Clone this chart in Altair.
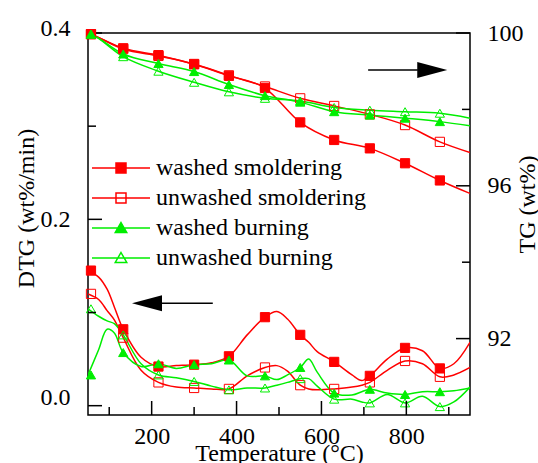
import altair as alt
import pandas as pd

SERIES = ["washed smoldering", "unwashed smoldering", "washed burning", "unwashed burning"]
COLORS = ["#ff0000", "#ff0000", "#00ee00", "#00ee00"]
FILLS = ["#ff0000", "transparent", "#00ee00", "transparent"]
SHAPES = ["square", "square", "triangle-up", "triangle-up"]
LEG_SHAPES = [
    "M-5.8,0H5.8M-1,-1H1V1H-1Z",
    "M-5.8,0H5.8M-1,-1H1V1H-1Z",
    "M-5.8,0H5.8M0,-1.1L1.15,0.9H-1.15Z",
    "M-5.8,0H5.8M0,-1.1L1.15,0.9H-1.15Z",
]

# DTG curves (wt%/min) on a temperature grid (°C)
T_GRID = [50, 75, 95, 112, 133, 175, 216, 258, 300, 341, 382, 425, 467, 495,
          520, 550, 570, 590, 630, 672, 695, 714, 755, 797, 838, 879, 912, 950]
DTG_WS = [0.145, 0.138, 0.125, 0.106, 0.082, 0.052, 0.042, 0.043, 0.044, 0.046,
          0.053, 0.076, 0.095, 0.101, 0.093, 0.076, 0.068, 0.058, 0.047, 0.033,
          0.027, 0.032, 0.050, 0.062, 0.059, 0.040, 0.045, 0.068]
DTG_US = [0.120, 0.114, 0.102, 0.092, 0.073, 0.038, 0.025, 0.020, 0.019, 0.018,
          0.018, 0.032, 0.041, 0.043, 0.037, 0.022, 0.018, 0.017, 0.018, 0.020,
          0.022, 0.025, 0.038, 0.048, 0.045, 0.031, 0.033, 0.041]
DTG_WB = [0.033, 0.060, 0.082, 0.078, 0.057, 0.042, 0.045, 0.040, 0.044, 0.045,
          0.049, 0.032, 0.032, 0.028, 0.033, 0.041, 0.050, 0.036, 0.0135, 0.0115,
          0.015, 0.0176, 0.0135, 0.012, 0.015, 0.015, 0.016, 0.019]
DTG_UB = [0.104, 0.096, 0.091, 0.088, 0.076, 0.045, 0.033, 0.030, 0.026, 0.021,
          0.017, 0.019, 0.019, 0.022, 0.025, 0.029, 0.029, 0.021, 0.007, 0.007,
          0.004, 0.003, 0.012, 0.003, 0.010, -0.001, 0.004, 0.020]

MARK_T = [57, 133, 216, 300, 382, 467, 550, 630, 714, 797, 879]
MARK_IDX = [0, 4, 6, 8, 10, 12, 15, 18, 21, 23, 25]

# TG curves (wt%)
TG_T = [50, 57, 133, 216, 300, 382, 467, 550, 630, 714, 797, 879, 950]
TG_WS = [100.0, 99.97, 99.60, 99.42, 99.18, 98.88, 98.56, 97.66, 97.20, 96.98, 96.59, 96.14, 95.80]
TG_US = [100.0, 99.97, 99.58, 99.40, 99.19, 98.89, 98.60, 98.29, 98.09, 97.87, 97.59, 97.15, 96.87]
TG_WB = [100.0, 99.97, 99.45, 99.20, 98.99, 98.65, 98.36, 98.19, 97.94, 97.85, 97.77, 97.68, 97.57]
TG_UB = [100.0, 99.97, 99.38, 99.00, 98.71, 98.46, 98.29, 98.22, 98.05, 97.98, 97.94, 97.90, 97.77]

# axis ticks
X_MAJOR = [200, 400, 600, 800]
X_MINOR = [100, 300, 500, 700, 900]
DTG_MAJOR = [0.0, 0.2, 0.4]
DTG_MINOR = [0.1, 0.3]
TG_MAJOR = [92, 96, 100]
TG_MINOR = [94, 98]

# arrows (data coordinates)
ARROW_DTG = {"shaft_from": 344, "shaft_to": 222, "head": 189, "level": 0.110}
ARROW_TG = {"shaft_from": 710, "shaft_to": 827, "head": 861, "level": 99.03}

FONT = "Liberation Serif"
FS = 24
W = 382
H = 382

dtg_series = [DTG_WS, DTG_US, DTG_WB, DTG_UB]
tg_series = [TG_WS, TG_US, TG_WB, TG_UB]

dtg_line = pd.DataFrame([
    {"series": s, "T": t, "v": v}
    for s, vals in zip(SERIES, dtg_series) for t, v in zip(T_GRID, vals)
])
dtg_pts = pd.DataFrame([
    {"series": s, "T": t, "v": vals[i]}
    for s, vals in zip(SERIES, dtg_series) for t, i in zip(MARK_T, MARK_IDX)
])
tg_line = pd.DataFrame([
    {"series": s, "T": t, "v": v}
    for s, vals in zip(SERIES, tg_series) for t, v in zip(TG_T, vals)
])
tg_pts = pd.DataFrame([
    {"series": s, "T": t, "v": v}
    for s, vals in zip(SERIES, tg_series) for t, v in zip(TG_T[1:-1], vals[1:-1])
])

X_SCALE = alt.Scale(domain=[50, 950], nice=False, zero=False)
X_AX = alt.Axis(values=X_MAJOR, title="Temperature (°C)", ticks=False, tickSize=0,
                domain=False, grid=False, labelFont=FONT, labelFontSize=FS,
                labelColor="black", labelPadding=9, titleFont=FONT, titleFontSize=FS,
                titleFontWeight="normal", titleColor="black", titleY=45,
                titleBaseline="alphabetic")
DTG_SCALE = alt.Scale(domain=[-0.01, 0.4], nice=False, zero=False)
DTG_AX = alt.Axis(orient="left", values=DTG_MAJOR, format=".1f", title="DTG (wt%/min)",
                  ticks=False, tickSize=0, domain=False, grid=False, labelFont=FONT,
                  labelFontSize=FS, labelColor="black", labelPadding=18,
                  labelOffset={"condition": [{"test": "datum.value == 0", "value": -8},
                                             {"test": "datum.value == 0.4", "value": -5}],
                               "value": 0},
                  titleFont=FONT, titleFontSize=FS, titleFontWeight="normal",
                  titleColor="black", titleAngle=270, titleX=-62, titleY=175,
                  titleAlign="center", titleBaseline="middle")
TG_SCALE = alt.Scale(domain=[90, 100], nice=False, zero=False)
TG_AX = alt.Axis(orient="right", values=TG_MAJOR, format="d", title="TG (wt%)",
                 ticks=False, tickSize=0, domain=False, grid=False, labelFont=FONT,
                 labelFontSize=FS, labelColor="black", labelPadding=17,
                 titleFont=FONT, titleFontSize=FS, titleFontWeight="normal",
                 titleColor="black", titleAngle=270, titleX=57, titleY=171,
                 titleAlign="center", titleBaseline="middle")

color_enc = alt.Color("series:N", scale=alt.Scale(domain=SERIES, range=COLORS), legend=None)


def line_layer(df, yscale, yax, interp):
    return alt.Chart(df).mark_line(strokeWidth=1.5, interpolate=interp, clip=True).encode(
        x=alt.X("T:Q", scale=X_SCALE, axis=X_AX),
        y=alt.Y("v:Q", scale=yscale, axis=yax),
        color=color_enc,
        detail="series:N",
    )


def pts_layer(df, yscale, yax):
    return alt.Chart(df).mark_point(filled=True, size=85, strokeWidth=1, opacity=1).encode(
        x=alt.X("T:Q", scale=X_SCALE, axis=X_AX),
        y=alt.Y("v:Q", scale=yscale, axis=yax),
        shape=alt.Shape("series:N", scale=alt.Scale(domain=SERIES, range=SHAPES), legend=None),
        fill=alt.Fill("series:N", scale=alt.Scale(domain=SERIES, range=FILLS), legend=None),
        stroke=alt.Stroke("series:N", scale=alt.Scale(domain=SERIES, range=COLORS), legend=None),
    )


def yticks(vals, yscale, yax, x0, x1):
    return alt.Chart(pd.DataFrame({"v": vals})).mark_rule(color="black", strokeWidth=1.5).encode(
        y=alt.Y("v:Q", scale=yscale, axis=yax), x=alt.value(x0), x2=alt.value(x1))


def xticks(vals, length):
    return alt.Chart(pd.DataFrame({"T": vals})).mark_rule(color="black", strokeWidth=1.5).encode(
        x=alt.X("T:Q", scale=X_SCALE, axis=X_AX), y=alt.value(H), y2=alt.value(H - length))


def arrow(spec, yscale, yax, path):
    shaft = alt.Chart(pd.DataFrame([spec])).mark_rule(color="black", strokeWidth=1.5).encode(
        x=alt.X("shaft_from:Q", scale=X_SCALE, axis=X_AX), x2="shaft_to:Q",
        y=alt.Y("level:Q", scale=yscale, axis=yax))
    head = alt.Chart(pd.DataFrame([spec])).mark_point(
        shape=path, size=900, filled=True, color="black", opacity=1).encode(
        x=alt.X("head:Q", scale=X_SCALE, axis=X_AX),
        y=alt.Y("level:Q", scale=yscale, axis=yax))
    return shaft + head


dtg_layer = alt.layer(
    line_layer(dtg_line, DTG_SCALE, DTG_AX, "catmull-rom"),
    pts_layer(dtg_pts, DTG_SCALE, DTG_AX),
    yticks(DTG_MAJOR, DTG_SCALE, DTG_AX, 0, 14),
    yticks(DTG_MINOR, DTG_SCALE, DTG_AX, 0, 8),
    xticks(X_MAJOR, 14),
    xticks(X_MINOR, 8),
    arrow(ARROW_DTG, DTG_SCALE, DTG_AX, "M-1,0L1,-0.53L1,0.53Z"),
)

tg_layer = alt.layer(
    line_layer(tg_line, TG_SCALE, TG_AX, "monotone"),
    pts_layer(tg_pts, TG_SCALE, TG_AX),
    yticks(TG_MAJOR, TG_SCALE, TG_AX, W, W - 14),
    yticks(TG_MINOR, TG_SCALE, TG_AX, W, W - 8),
    arrow(ARROW_TG, TG_SCALE, TG_AX, "M1,0L-1,-0.53L-1,0.53Z"),
)

legend_df = pd.DataFrame({"key": SERIES})
leg = alt.Legend(title=None, orient="none", legendX=21, legendY=123, symbolSize=100,
                 symbolStrokeWidth=1.5, labelFont=FONT, labelFontSize=FS, labelColor="black",
                 labelOffset=23, rowPadding=6, symbolOpacity=1, labelLimit=400)
legend_layer = alt.Chart(legend_df).mark_point(filled=True, strokeWidth=1.5, opacity=1).encode(
    x=alt.value(-1000), y=alt.value(-1000),
    shape=alt.Shape("key:N", scale=alt.Scale(domain=SERIES, range=LEG_SHAPES), legend=leg, sort=SERIES),
    fill=alt.Fill("key:N", scale=alt.Scale(domain=SERIES, range=FILLS), legend=leg, sort=SERIES),
    stroke=alt.Stroke("key:N", scale=alt.Scale(domain=SERIES, range=COLORS), legend=leg, sort=SERIES),
)

chart = alt.layer(dtg_layer, tg_layer, legend_layer).resolve_scale(
    y="independent", shape="independent", fill="independent", stroke="independent"
).properties(
    width=W, height=H,
    autosize=alt.AutoSizeParams(type="none"),
    padding={"left": 88, "top": 33, "right": 68, "bottom": 48},
    background="white",
).configure_view(stroke="black", strokeWidth=1.5)

chart.save("out.html", embed_options={"renderer": "svg", "actions": False})
